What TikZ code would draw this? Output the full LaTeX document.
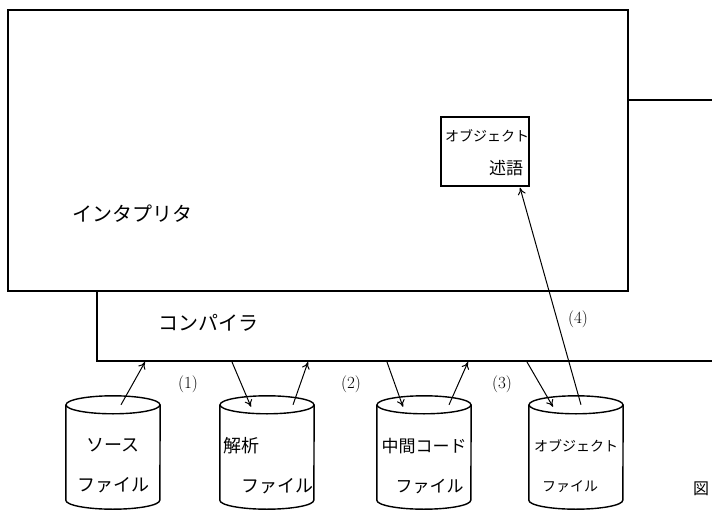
\documentclass[tikz,border=0pt]{standalone}
\usepackage{fontspec}
\newfontfamily\jp{Noto Sans CJK JP}
\usetikzlibrary{arrows.meta,calc}
\begin{document}
\begin{tikzpicture}[x=1pt,y=-1pt,
  ln/.style={line width=1.4pt,black},
  box/.style={draw,ln,rectangle,inner sep=0pt},
  cylbox/.style={rectangle,inner sep=0pt,minimum width=94pt,minimum height=95pt},
  lbl/.style={font=\jp\fontsize{20}{24}\selectfont,inner sep=0pt},
  clbl/.style={font=\jp\fontsize{18}{40}\selectfont,align=center,inner sep=0pt},
  num/.style={font=\fontsize{17}{20}\selectfont,inner sep=0pt},
  arr/.style={line width=1pt,-{To[length=7pt,width=8pt]}}]
\useasboundingbox (0,0) rectangle (712,516);
\fill[white] (0,0) rectangle (712,516);
% interpreter box
\node[box,minimum width=620,minimum height=281] (interp) at (318,150.5) {};
\node[lbl] (interpT) at (132,214) {インタプリタ};
\coordinate (rlineA) at (628,100);
\coordinate (rlineB) at (712,100);
\draw[ln] (rlineA) -- (rlineB);
% object predicate box
\node[box,minimum width=88,minimum height=69] (pred) at (485,151.5) {};
\node[font=\jp\fontsize{14}{17}\selectfont,inner sep=0pt] (predA) at (487,136) {オブジェクト};
\node[font=\jp\fontsize{17}{19}\selectfont,inner sep=0pt] (predB) at (506,168) {述語};
% compiler
\coordinate (compTL) at (97,291);
\coordinate (compBL) at (97,361);
\coordinate (compBR) at (712,361);
\draw[ln] (compTL) -- (compBL) -- (compBR);
\node[lbl] (compT) at (208,323) {コンパイラ};
% cylinders
\node[cylbox] (c1) at (113,452.5) {};
\node[cylbox] (c2) at (267,452.5) {};
\node[cylbox] (c3) at (424,452.5) {};
\node[cylbox] (c4) at (576,452.5) {};
\foreach \c in {c1,c2,c3,c4}{
  \draw[ln] (\c.north) ellipse[x radius=47,y radius=9];
  \draw[ln] (\c.north west) -- (\c.south west)
     arc[start angle=180,end angle=0,x radius=47,y radius=9] -- (\c.north east);
}
\node[clbl] (t1) at (113,466) {ソース\\ファイル};
\node[clbl,align=left] (t2) at (268,466) {解析\\\hspace{18pt}ファイル};
\node[font=\jp\fontsize{17}{40}\selectfont,align=left,inner sep=0pt] (t3) at (424,466) {中間コード\\\hspace{14pt}ファイル};
\node[font=\jp\fontsize{14}{40}\selectfont,align=left,inner sep=0pt] (t4) at (576,466) {オブジェクト\\\hspace{8pt}ファイル};
% connection points on compiler bottom
\coordinate (p1) at (145,362);
\coordinate (p2a) at (232,362);
\coordinate (p2b) at (308,362);
\coordinate (p3a) at (387,362);
\coordinate (p3b) at (468,362);
\coordinate (p4a) at (527,362);
% arrows
\draw[arr] ($(c1.north)+(8,0)$) -- (p1);
\draw[arr] (p2a) -- ($(c2.north)+(-16,2)$);
\draw[arr] ($(c2.north)+(26,0)$) -- (p2b);
\draw[arr] (p3a) -- ($(c3.north)+(-21,2)$);
\draw[arr] ($(c3.north)+(25,0)$) -- (p3b);
\draw[arr] (p4a) -- ($(c4.north)+(-23,2)$);
\draw[arr] ($(c4.north)+(5,0)$) -- ($(pred.south)+(35,1)$);
\node[num] (n1) at (188,384) {(1)};
\node[num] (n2) at (351,384) {(2)};
\node[num] (n3) at (502,384) {(3)};
\node[num] (n4) at (578,319) {(4)};
\node[font=\jp\fontsize{16}{19}\selectfont,inner sep=0pt,anchor=west] (fig) at (693,489) {図};
\end{tikzpicture}
\end{document}
